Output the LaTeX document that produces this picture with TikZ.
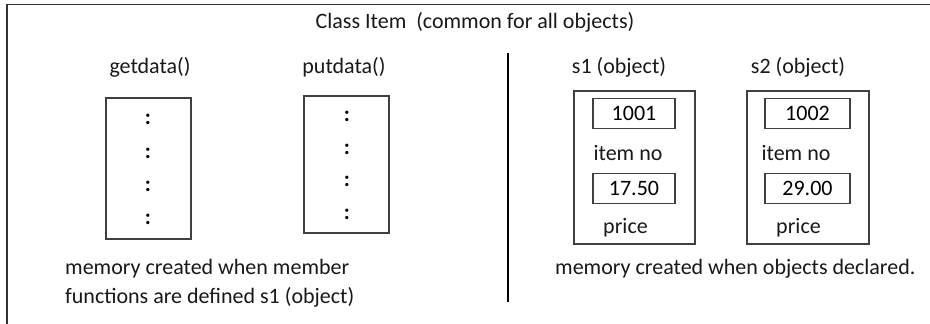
\documentclass[tikz,border=0pt]{standalone}
\usepackage{fontspec}
\setmainfont{Carlito}
\begin{document}
\begin{tikzpicture}[x=1pt,y=-1pt,
  lbl/.style={inner sep=0pt,font=\fontsize{22}{26}\selectfont,text=black!90},
  membox/.style={draw=black!75,line width=1.3pt,inner sep=0pt},
  valbox/.style={draw=black!75,line width=1.3pt,inner sep=0pt,minimum width=82pt,minimum height=30pt,font=\fontsize{22}{26}\selectfont},
  dot/.style={inner sep=0pt,font=\fontsize{22}{26}\selectfont\bfseries}]
\useasboundingbox (0,0) rectangle (930,324);
\fill[white] (0,0) rectangle (930,324);
% frame (cut off at right and bottom)
\coordinate (fbl) at (7,340);
\coordinate (ftl) at (7,4.5);
\coordinate (ftr) at (945,4.5);
\draw[black!80,line width=1.8pt] (fbl) -- (ftl) -- (ftr);
% divider
\coordinate (dt) at (508,53);
\coordinate (db) at (508,302);
\draw[black,line width=2.8pt] (dt) -- (db);
% title
\node[lbl] (title) at (475,22) {Class Item\ \ (common for all objects)};
% left side
\node[lbl] (get) at (150,67) {getdata()};
\node[lbl] (put) at (344,67) {putdata()};
\node[membox,minimum width=85pt,minimum height=141pt] (getbox) at (148.5,168.5) {};
\node[membox,minimum width=85pt,minimum height=137pt] (putbox) at (346.5,164.5) {};
\foreach \y [count=\i] in {119,153,186,219} {\node[dot] (gd\i) at (148,\y) {:};}
\foreach \y [count=\i] in {116,149,181,214} {\node[dot] (pd\i) at (347,\y) {:};}
\node[lbl,anchor=west] (cap1) at (65,269) {memory created when member};
\node[lbl,anchor=west] (cap2) at (65,297) {functions are defined s1 (object)};
% right side
\node[lbl] (s1) at (619,67) {s1 (object)};
\node[lbl] (s2) at (798,67) {s2 (object)};
\node[membox,minimum width=121pt,minimum height=153pt] (s1box) at (634.5,167.5) {};
\node[membox,minimum width=122pt,minimum height=153pt] (s2box) at (808,167.5) {};
\node[valbox] (v1) at (634,113.5) {1001};
\node[valbox] (p1) at (634,188.5) {17.50};
\node[valbox,minimum width=85pt] (v2) at (807.5,113.5) {1002};
\node[valbox,minimum width=85pt] (p2) at (807.5,188.5) {29.00};
\node[lbl] (in1) at (628,153) {item no};
\node[lbl] (in2) at (796,153) {item no};
\node[lbl] (pr1) at (625.5,228) {price};
\node[lbl] (pr2) at (798.5,228) {price};
\node[lbl,anchor=west] (cap3) at (555,269) {memory created when objects declared.};
\end{tikzpicture}
\end{document}
